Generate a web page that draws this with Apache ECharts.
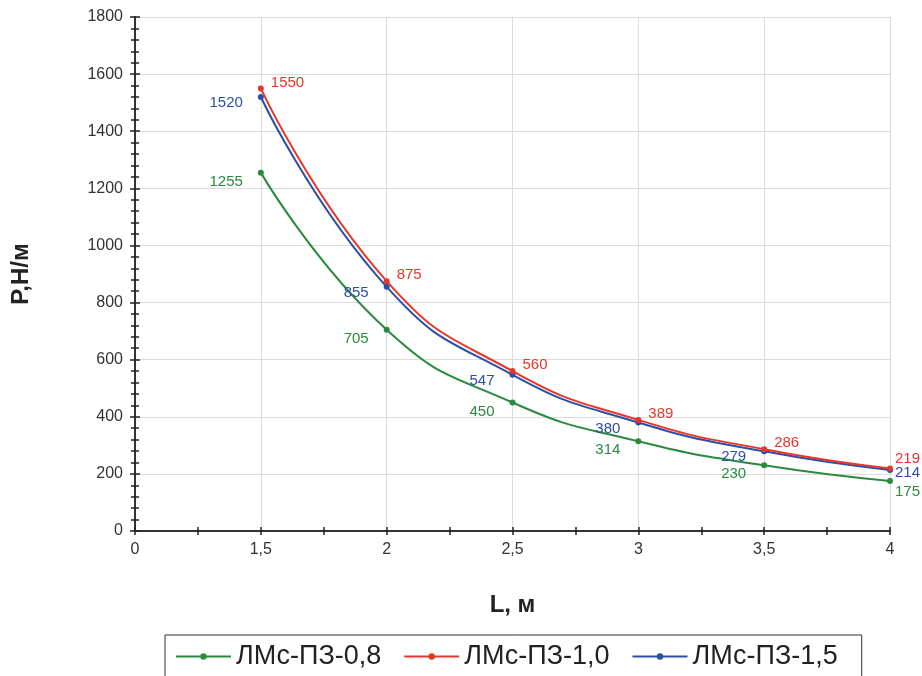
<!DOCTYPE html>
<html><head><meta charset="utf-8">
<script src="https://cdn.jsdelivr.net/npm/echarts@6/dist/echarts.min.js"></script>
<style>html,body{margin:0;padding:0;background:#fff}#c{width:922px;height:676px}</style>
</head><body><div id="c"></div>
<script>
const categories = ['0', '1,5', '2', '2,5', '3', '3,5', '4'];
const yTicks = [0, 200, 400, 600, 800, 1000, 1200, 1400, 1600, 1800];
const names = ['ЛМс-ПЗ-0,8', 'ЛМс-ПЗ-1,0', 'ЛМс-ПЗ-1,5'];
const s08 = ['-', 1255, 705, 450, 314, 230, 175];
const s10 = ['-', 1550, 875, 560, 389, 286, 219];
const s15 = ['-', 1520, 855, 547, 380, 279, 214];

const colors = ['#2a8a3e', '#e5372c', '#2c4fa6'];
const labelCfg = [
  {position: 'left', offset: [-10, 9], last: [-2, 11]},
  {position: 'right', offset: [2, -6], last: [-2, -10]},
  {position: 'left', offset: [-10, 6], last: [-2, 3]}
];
const seriesData = [s08, s10, s15];
const FONT = '"Liberation Sans", Arial, sans-serif';

function mkData(arr, cfg) {
  const lastIdx = arr.length - 1;
  return arr.map((v, i) => {
    if (i === lastIdx) {
      return {value: v, label: {position: 'right', offset: cfg.last, distance: 4}};
    }
    return v;
  });
}

const series = seriesData.map((arr, k) => ({
  name: names[k],
  type: 'line',
  smooth: true,
  xAxisIndex: 0, yAxisIndex: 0,
  data: mkData(arr, labelCfg[k]),
  symbol: 'circle',
  symbolSize: 6,
  lineStyle: {width: 2, color: colors[k]},
  itemStyle: {color: colors[k]},
  label: {show: true, position: labelCfg[k].position, offset: labelCfg[k].offset, distance: 5,
    color: colors[k], fontSize: 15, fontFamily: FONT},
  z: k === 1 ? 3 : 2
}));

const tickAxisX = (inside) => ({
  type: 'value', min: 0, max: 6, interval: 0.5, position: 'bottom',
  axisLine: {show: false}, axisLabel: {show: false}, splitLine: {show: false},
  axisTick: {show: true, inside: inside, length: 4, lineStyle: {color: '#222', width: 1.5}}
});
const tickAxisY = (inside) => ({
  type: 'value', min: 0, max: 1800, interval: 200, position: 'left',
  axisLine: {show: false}, axisLabel: {show: false}, splitLine: {show: false},
  axisTick: {show: true, inside: inside, length: 5, lineStyle: {color: '#222', width: 1.5}},
  minorTick: {show: true, splitNumber: 5, length: 4, lineStyle: {color: '#222', width: 1.5}}
});

const chart = echarts.init(document.getElementById('c'));
chart.setOption({
  backgroundColor: '#ffffff',
  animation: false,
  textStyle: {fontFamily: FONT},
  grid: {left: 135, right: 32, top: 17, bottom: 145},
  legend: {
    data: names, bottom: -8, left: 165,
    itemWidth: 55, itemHeight: 8, itemGap: 22,
    borderColor: '#333', borderWidth: 1, padding: [8, 24, 14, 10],
    textStyle: {fontSize: 27, color: '#222', fontFamily: FONT}
  },
  xAxis: [
    {
      type: 'category', data: categories, boundaryGap: false,
      axisLine: {lineStyle: {color: '#333', width: 2}},
      axisTick: {show: false},
      axisLabel: {color: '#333', fontSize: 16, margin: 11, fontFamily: FONT},
      splitLine: {show: true, lineStyle: {color: '#dcdcdc', width: 1}},
      name: 'L, м', nameLocation: 'middle', nameGap: 62,
      nameTextStyle: {fontSize: 24, fontWeight: 'bold', color: '#222', fontFamily: FONT}
    },
    tickAxisX(false),
    tickAxisX(true)
  ],
  yAxis: [
    {
      type: 'value', min: 0, max: 1800, interval: 200,
      axisLine: {show: true, lineStyle: {color: '#333', width: 2}},
      axisTick: {show: false},
      axisLabel: {color: '#333', fontSize: 16, margin: 12, fontFamily: FONT,
        formatter: (v) => String(v)},
      splitLine: {show: true, lineStyle: {color: '#dcdcdc', width: 1}},
      name: 'P,Н/м', nameLocation: 'middle', nameGap: 102, nameRotate: 90,
      nameTextStyle: {fontSize: 24, fontWeight: 'bold', color: '#222', fontFamily: FONT}
    },
    tickAxisY(false),
    tickAxisY(true)
  ],
  series: series
});
</script>
</body></html>
